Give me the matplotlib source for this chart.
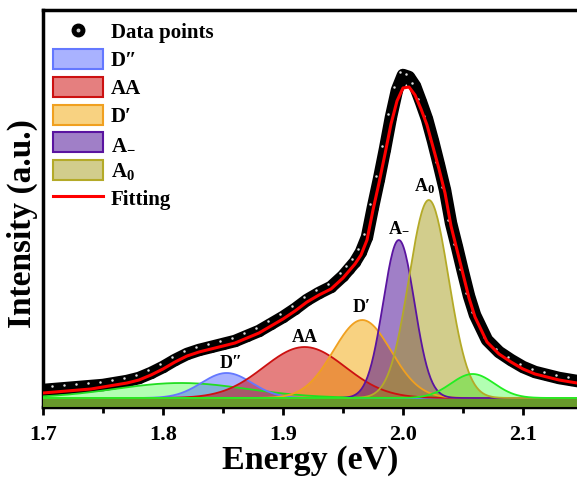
import numpy as np
import matplotlib
matplotlib.use("Agg")
import matplotlib.pyplot as plt
from matplotlib.lines import Line2D
from matplotlib.patches import Patch
from matplotlib.legend_handler import HandlerTuple
import matplotlib.transforms as mtransforms

plt.rcParams['font.family'] = ['Liberation Serif', 'DejaVu Serif']
plt.rcParams['font.weight'] = 'bold'
plt.rcParams['mathtext.fontset'] = 'custom'
plt.rcParams['mathtext.rm'] = 'Liberation Serif:bold'
plt.rcParams['mathtext.bf'] = 'Liberation Serif:bold'
plt.rcParams['mathtext.it'] = 'Liberation Serif:bold:italic'

energy = [1.70, 1.71, 1.72, 1.73, 1.74, 1.75, 1.76, 1.77, 1.78, 1.79, 1.80, 1.81,
          1.82, 1.83, 1.84, 1.85, 1.86, 1.87, 1.88, 1.89, 1.90, 1.91, 1.92, 1.93,
          1.94, 1.95, 1.955, 1.96, 1.965, 1.97, 1.975, 1.98, 1.985, 1.99, 1.995,
          2.00, 2.005, 2.01, 2.015, 2.02, 2.025, 2.03, 2.035, 2.04, 2.045, 2.05,
          2.055, 2.06, 2.07, 2.08, 2.09, 2.10, 2.11, 2.12, 2.13, 2.14, 2.15]
data_intensity = [0.17, 0.18, 0.19, 0.20, 0.21, 0.22, 0.24, 0.26, 0.29, 0.34, 0.40, 0.47,
                  0.53, 0.57, 0.60, 0.63, 0.66, 0.71, 0.76, 0.83, 0.90, 0.98, 1.07, 1.14,
                  1.20, 1.31, 1.38, 1.45, 1.55, 1.70, 2.00, 2.28, 2.58, 2.90, 3.17,
                  3.32, 3.30, 3.21, 3.05, 2.88, 2.66, 2.42, 2.17, 1.84, 1.60, 1.35,
                  1.11, 0.92, 0.67, 0.55, 0.47, 0.40, 0.35, 0.32, 0.29, 0.27, 0.25]
fit_intensity = [0.14, 0.15, 0.16, 0.17, 0.18, 0.20, 0.22, 0.24, 0.27, 0.32, 0.38, 0.45,
                 0.51, 0.55, 0.58, 0.61, 0.64, 0.69, 0.74, 0.81, 0.88, 0.96, 1.05, 1.12,
                 1.18, 1.29, 1.36, 1.43, 1.52, 1.67, 1.97, 2.24, 2.53, 2.83, 3.06,
                 3.19, 3.20, 3.12, 2.98, 2.82, 2.60, 2.38, 2.14, 1.81, 1.57, 1.33,
                 1.09, 0.90, 0.65, 0.53, 0.45, 0.38, 0.33, 0.30, 0.27, 0.25, 0.23]

# ---- fitted components: Gaussian parameters (center, height, width) ----
baseline = 0.09
comp_names = ['Dpp', 'AA', 'Dp', 'Am', 'A0', 'G1', 'G2']
comp_centers = [1.853, 1.918, 1.966, 1.9965, 2.0215, 1.815, 2.058]
comp_heights = [0.25, 0.51, 0.78, 1.58, 1.98, 0.15, 0.24]
comp_sigmas = [0.021, 0.034, 0.024, 0.013, 0.0165, 0.055, 0.018]
comp_labels = ['D″', 'AA', 'D′', r'$\mathbf{A_{-}}$', r'$\mathbf{A_{0}}$', None, None]

x_ticks = [1.7, 1.8, 1.9, 2.0, 2.1]
x_tick_labels = ['1.7', '1.8', '1.9', '2.0', '2.1']

# ---- styles ----
face = {'Dpp': ((0.33, 0.40, 1.0), 0.5), 'AA': ((0.80, 0.0, 0.0), 0.5),
        'Dp': ((0.95, 0.65, 0.02), 0.5), 'Am': ((0.26, 0.0, 0.57), 0.5),
        'A0': ((0.65, 0.61, 0.10), 0.5), 'G1': ((0.0, 1.0, 0.0), 0.3),
        'G2': ((0.0, 1.0, 0.0), 0.3)}
edge = {'Dpp': '#6478ff', 'AA': '#cc1111', 'Dp': '#f0a020', 'Am': '#5a14a0',
        'A0': '#b4aa28', 'G1': '#22dd22', 'G2': '#22ee22'}
label_shift = {'Dpp': (3, 1), 'AA': (0, 1), 'Dp': (0, 3), 'Am': (0, 3), 'A0': (-3, 3)}
draw_order = ['G1', 'Dpp', 'AA', 'Dp', 'Am', 'A0', 'G2']

fig = plt.figure(figsize=(5.77, 4.79), dpi=100)
ax = fig.add_axes([43/577, 72/479, 600/577, 397/479])

# data points
E = np.array(energy)
ax.plot(E, data_intensity, color='black', lw=9, solid_capstyle='round', zorder=2)
ax.plot(E, data_intensity, 'o', color='black', ms=7, zorder=2.1)
hl = mtransforms.offset_copy(ax.transData, fig=fig, x=-3, y=3, units='dots')
ax.plot(E, data_intensity, 'o', color='#dddddd', ms=1.8, mec='none', transform=hl, zorder=2.2)

# components
xx = np.linspace(1.70, 2.20, 600)
for key in draw_order:
    i = comp_names.index(key)
    g = baseline + comp_heights[i] * np.exp(-(xx - comp_centers[i])**2 / (2 * comp_sigmas[i]**2))
    fc, al = face[key]
    ax.fill_between(xx, 0, g, color=fc, alpha=al, lw=0, zorder=3)
    ax.plot(xx, g, color=edge[key], lw=1.3, zorder=3.5)
    if comp_labels[i] is not None:
        ax.annotate(comp_labels[i], (comp_centers[i], baseline + comp_heights[i]),
                    xytext=label_shift[key], textcoords='offset points', ha='center',
                    va='bottom', fontsize=13, fontweight='bold', zorder=6)

# fitting curve
ax.plot(E, fit_intensity, color='red', lw=2.2, zorder=5)

ax.set_xlim(1.70, 2.20)
ax.set_ylim(0, 3.97)
ax.set_xticks(x_ticks)
ax.set_xticklabels(x_tick_labels)
ax.xaxis.set_minor_locator(matplotlib.ticker.MultipleLocator(0.05))
ax.set_yticks([])
ax.tick_params(axis='x', which='major', direction='out', length=6, width=2,
               labelsize=16, pad=7)
ax.tick_params(axis='x', which='minor', direction='out', length=4, width=2)
for s in ax.spines.values():
    s.set_linewidth(2.5)
ax.set_xlabel('Energy (eV)', fontsize=24.5, fontweight='bold', labelpad=0)
ax.xaxis.set_label_coords(0.445, -0.095)
ax.set_ylabel('Intensity (a.u.)', fontsize=24, fontweight='bold')
ax.yaxis.set_label_coords(-0.009, 0.463)

# legend
h_data = (Line2D([], [], marker='o', ls='none', color='black', ms=9),
          Line2D([], [], marker='o', ls='none', color='#cccccc', ms=1.8))
handles = [h_data]
labels = ['Data points']
for key, lab in [('Dpp', 'D″'), ('AA', 'AA'), ('Dp', 'D′'),
                 ('Am', r'$\mathbf{A_{-}}$'), ('A0', r'$\mathbf{A_{0}}$')]:
    fc, al = face[key]
    handles.append(Patch(facecolor=fc + (0.5,), edgecolor=edge[key], lw=1.5))
    labels.append(lab)
handles.append(Line2D([], [], color='red', lw=2.2))
labels.append('Fitting')
ax.legend(handles, labels, loc='upper left', bbox_to_anchor=(-0.007, 1.008),
          frameon=False, fontsize=15, handlelength=2.4, handleheight=1.1,
          labelspacing=0.27, handletextpad=0.35, borderaxespad=0.3,
          handler_map={tuple: HandlerTuple(ndivide=1, pad=0)})

fig.savefig('out.png', dpi=100)
